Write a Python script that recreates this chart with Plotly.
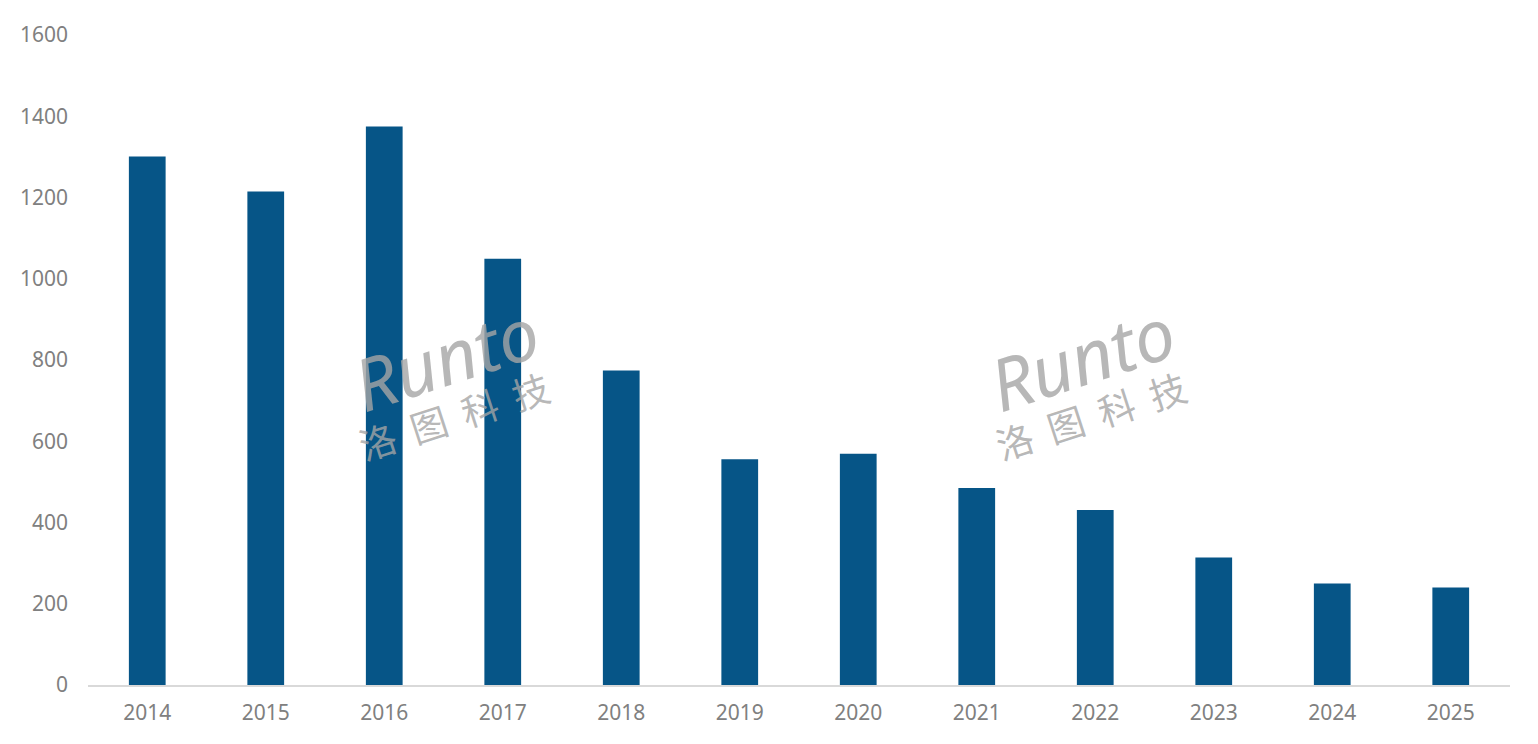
import plotly.graph_objects as go

years = ["2014", "2015", "2016", "2017", "2018", "2019", "2020", "2021", "2022", "2023", "2024", "2025"]
values = [1301, 1215, 1375, 1049, 774, 556, 569, 485, 431, 314, 250, 240]
y_ticks = [0, 200, 400, 600, 800, 1000, 1200, 1400, 1600]

fig = go.Figure()
fig.add_trace(go.Bar(x=years, y=values, marker=dict(color="#065587", line=dict(width=0)),
                     width=0.31))

wm_color = "rgba(165,165,165,0.8)"
for cx in (0.2516, 0.699):
    fig.add_annotation(x=cx, y=0.505, xref="paper", yref="paper", text="<i>Runto</i>",
                       showarrow=False, textangle=-18, xanchor="center", yanchor="middle",
                       font=dict(family="Noto Sans", size=72, color=wm_color))
    fig.add_annotation(x=cx + 0.006, y=0.415, xref="paper", yref="paper", text="洛  图  科  技",
                       showarrow=False, textangle=-18, xanchor="center", yanchor="middle",
                       font=dict(family="Noto Sans CJK SC", size=37, color=wm_color))

fig.update_layout(
    width=1538, height=744,
    margin=dict(l=79, r=36, t=22, b=67),
    plot_bgcolor="white", paper_bgcolor="white",
    showlegend=False,
    font=dict(family="Noto Sans", color="#808080", size=21),
)
fig.update_xaxes(showline=True, linecolor="#d9d9d9", linewidth=2, showgrid=False,
                 ticks="", tickfont=dict(size=21, color="#808080"), ticklabelstandoff=8)
fig.update_yaxes(range=[0, 1600], tickvals=y_ticks, showgrid=False, zeroline=False,
                 showline=False, ticks="", tickfont=dict(size=21, color="#808080"),
                 ticklabelstandoff=19)

fig.write_html("out.html")
